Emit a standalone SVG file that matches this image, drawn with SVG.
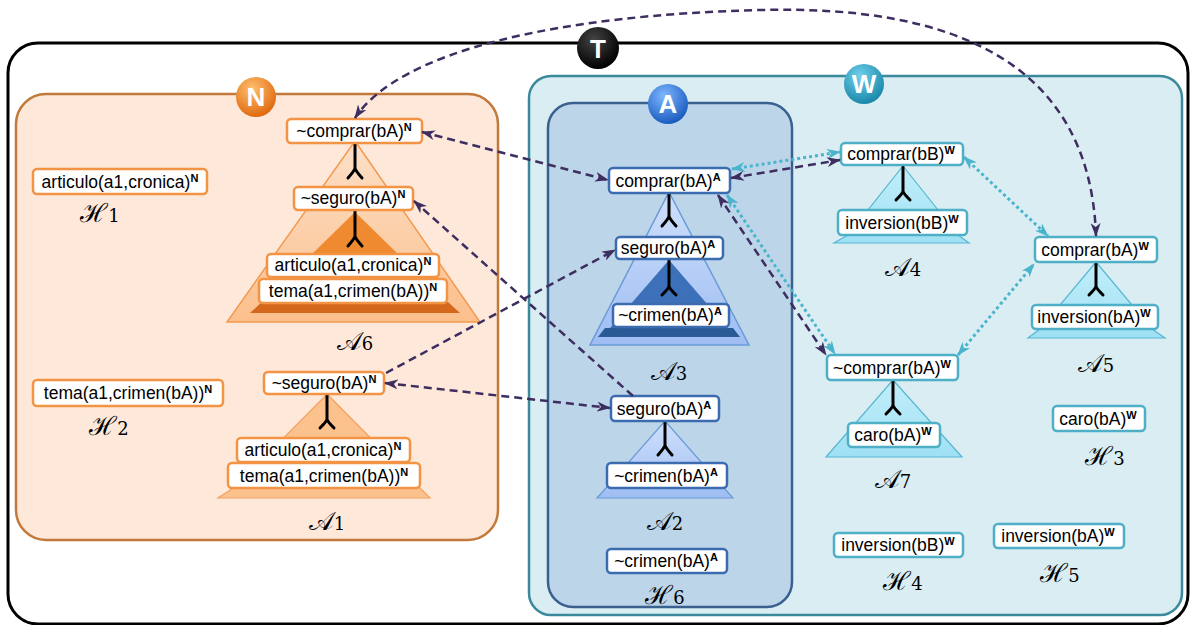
<svg xmlns="http://www.w3.org/2000/svg" width="1191" height="625" viewBox="0 0 1191 625">
<defs>
<style>
.t{font-family:"Liberation Sans",Arial,sans-serif;font-size:17.5px;fill:#000;text-anchor:middle}
.sup{font-size:11px;font-weight:bold}
.lab{font-family:"DejaVu Serif","Liberation Serif",serif;font-size:26px;fill:#000;text-anchor:middle}
.sub{font-size:18px}
.bn{fill:#fff;stroke:#f39344;stroke-width:2.5}
.ba{fill:#fff;stroke:#3c6cb0;stroke-width:2.5}
.bw{fill:#fff;stroke:#4eafc6;stroke-width:2.5}
.fork{fill:none;stroke:#000;stroke-width:3;stroke-linecap:round;stroke-linejoin:round}
.pd{fill:none;stroke:#3e2e60;stroke-width:2.5;stroke-dasharray:8 5}
.td{fill:none;stroke:#4ab4cc;stroke-width:3;stroke-dasharray:3 3}
.badge{font-family:"Liberation Sans",Arial,sans-serif;font-weight:bold;font-size:26px;fill:#fff;text-anchor:middle}
</style>
<marker id="mp" viewBox="0 0 14 10" refX="13" refY="5" markerWidth="14" markerHeight="10" markerUnits="userSpaceOnUse" orient="auto-start-reverse"><path d="M0,0 L14,5 L0,10 L4,5 z" fill="#3e2e60"/></marker>
<marker id="mt" viewBox="0 0 14 10" refX="13" refY="5" markerWidth="14" markerHeight="10" markerUnits="userSpaceOnUse" orient="auto-start-reverse"><path d="M0,0 L14,5 L0,10 L4,5 z" fill="#4ab4cc"/></marker>
<radialGradient id="gN" cx="40%" cy="30%" r="70%"><stop offset="0" stop-color="#ffc070"/><stop offset="1" stop-color="#e06a10"/></radialGradient>
<radialGradient id="gT" cx="40%" cy="30%" r="70%"><stop offset="0" stop-color="#444"/><stop offset="1" stop-color="#000"/></radialGradient>
<radialGradient id="gA" cx="40%" cy="30%" r="70%"><stop offset="0" stop-color="#80b8ff"/><stop offset="1" stop-color="#1a5cc0"/></radialGradient>
<radialGradient id="gW" cx="40%" cy="30%" r="70%"><stop offset="0" stop-color="#70d0ea"/><stop offset="1" stop-color="#1a88aa"/></radialGradient>
<linearGradient id="gBl" x1="0" y1="0" x2="0" y2="1"><stop offset="0" stop-color="#cfe0fb"/><stop offset="1" stop-color="#9fbdf3"/></linearGradient>
<linearGradient id="gTe" x1="0" y1="0" x2="0" y2="1"><stop offset="0" stop-color="#c2eefa"/><stop offset="1" stop-color="#9fe0f4"/></linearGradient>
<linearGradient id="gOr" x1="0" y1="0" x2="0" y2="1"><stop offset="0" stop-color="#fde0c8"/><stop offset="1" stop-color="#fbbf8c"/></linearGradient>
</defs>

<g id="frame-T">
<rect x="8" y="43" width="1180" height="581" rx="30" fill="#fff" stroke="#000" stroke-width="3"/>
</g>
<g id="region-N">
<rect x="16" y="94" width="482" height="446" rx="30" fill="#fde8da" stroke="#c27a3c" stroke-width="2.5"/>
</g>
<g id="region-W">
<rect x="529" y="76" width="653" height="539" rx="22" fill="#d9edf3" stroke="#3a8a9c" stroke-width="2.5"/>
</g>
<g id="region-A">
<rect x="548" y="103" width="244" height="504" rx="25" fill="#bdd5e9" stroke="#3a6090" stroke-width="2.5"/>
</g>

<g id="A6">
<polygon points="355,141 480,322 227,322" fill="url(#gOr)" stroke="#f39a50" stroke-width="1.5"/>
<polygon points="355,212 448,303 262,303" fill="#f08a30"/>
<polygon points="262,302 448,302 460,313 250,313" fill="#d4691e"/>
<path class="fork" d="M355,144 V168 M348,178 Q355,170 355,168 Q355,170 362,178"/>
<path class="fork" d="M355,211 V236 M348,246 Q355,238 355,236 Q355,238 362,246"/>
<rect class="bn" x="287" y="119" width="135" height="24" rx="4"/>
<text class="t" x="354" y="137">~comprar(bA)<tspan class="sup" dy="-6">N</tspan></text>
<rect class="bn" x="294" y="187" width="119" height="23" rx="4"/>
<text class="t" x="353" y="204">~seguro(bA)<tspan class="sup" dy="-6">N</tspan></text>
<rect class="bn" x="267" y="254" width="172" height="23" rx="4"/>
<text class="t" x="353" y="271">articulo(a1,cronica)<tspan class="sup" dy="-6">N</tspan></text>
<rect class="bn" x="259" y="279" width="188" height="24" rx="4"/>
<text class="t" x="353" y="297">tema(a1,crimen(bA))<tspan class="sup" dy="-6">N</tspan></text>
<text class="lab" x="355" y="350">𝒜<tspan class="sub">6</tspan></text>
</g>

<g id="H1">
<rect class="bn" x="33" y="169" width="174" height="25" rx="4"/>
<text class="t" x="120" y="188">articulo(a1,cronica)<tspan class="sup" dy="-6">N</tspan></text>
<text class="lab" x="100" y="222">ℋ<tspan class="sub">1</tspan></text>
</g>
<g id="H2">
<rect class="bn" x="33" y="380" width="190" height="26" rx="4"/>
<text class="t" x="128" y="399">tema(a1,crimen(bA))<tspan class="sup" dy="-6">N</tspan></text>
<text class="lab" x="109" y="435">ℋ<tspan class="sub">2</tspan></text>
</g>

<g id="A1">
<polygon points="327,394 419,487 430,498 218,498 235,487" fill="#fcc28e" stroke="#f5a060" stroke-width="1.2"/>
<path class="fork" d="M327,395 V419 M320,428 Q327,421 327,419 Q327,421 334,428"/>
<rect class="bn" x="264" y="372" width="120" height="22" rx="4"/>
<text class="t" x="324" y="389">~seguro(bA)<tspan class="sup" dy="-6">N</tspan></text>
<rect class="bn" x="237" y="438" width="173" height="24" rx="4"/>
<text class="t" x="323" y="456">articulo(a1,cronica)<tspan class="sup" dy="-6">N</tspan></text>
<rect class="bn" x="228" y="463" width="192" height="25" rx="4"/>
<text class="t" x="324" y="482">tema(a1,crimen(bA))<tspan class="sup" dy="-6">N</tspan></text>
<text class="lab" x="327" y="530">𝒜<tspan class="sub">1</tspan></text>
</g>

<g id="A3">
<polygon points="669,192 749,345 590,345" fill="url(#gBl)" stroke="#6a9cd8" stroke-width="1.5"/>
<polygon points="669,260 728,328 610,328" fill="#3c70b8"/>
<polygon points="605,328 733,328 740,337 598,337" fill="#2a5a96"/>
<path class="fork" d="M669,194 V216 M662,226 Q669,218 669,216 Q669,218 676,226"/>
<path class="fork" d="M669,260 V286 M662,295 Q669,288 669,286 Q669,288 676,295"/>
<rect class="ba" x="609" y="168" width="121" height="25" rx="4"/>
<text class="t" x="668" y="187">comprar(bA)<tspan class="sup" dy="-6">A</tspan></text>
<rect class="ba" x="616" y="237" width="107" height="22" rx="4"/>
<text class="t" x="668" y="254">seguro(bA)<tspan class="sup" dy="-6">A</tspan></text>
<rect class="ba" x="613" y="304" width="116" height="23" rx="4"/>
<text class="t" x="670" y="321">~crimen(bA)<tspan class="sup" dy="-6">A</tspan></text>
<text class="lab" x="669" y="380">𝒜<tspan class="sub">3</tspan></text>
</g>

<g id="A2">
<polygon points="665,421 724,488 733,498 597,498 606,488" fill="url(#gBl)" stroke="#6a9cd8" stroke-width="1.2"/>
<path class="fork" d="M665,422 V445 M658,455 Q665,447 665,445 Q665,447 672,455"/>
<rect class="ba" x="611" y="396" width="108" height="25" rx="4"/>
<text class="t" x="664" y="415">seguro(bA)<tspan class="sup" dy="-6">A</tspan></text>
<rect class="ba" x="607" y="463" width="120" height="25" rx="4"/>
<text class="t" x="666" y="482">~crimen(bA)<tspan class="sup" dy="-6">A</tspan></text>
<text class="lab" x="665" y="530">𝒜<tspan class="sub">2</tspan></text>
</g>

<g id="H6">
<rect class="ba" x="607" y="549" width="120" height="24" rx="4"/>
<text class="t" x="666" y="567">~crimen(bA)<tspan class="sup" dy="-6">A</tspan></text>
<text class="lab" x="665" y="604">ℋ<tspan class="sub">6</tspan></text>
</g>

<g id="A4">
<polygon points="903,166 958,235 969,243 834,243 848,235" fill="url(#gTe)" stroke="#58b8d4" stroke-width="1.2"/>
<path class="fork" d="M903,167 V191 M896,200 Q903,193 903,191 Q903,193 910,200"/>
<rect class="bw" x="841" y="143" width="122" height="22" rx="4"/>
<text class="t" x="901" y="160">comprar(bB)<tspan class="sup" dy="-6">W</tspan></text>
<rect class="bw" x="838" y="210" width="129" height="25" rx="4"/>
<text class="t" x="902" y="229">inversion(bB)<tspan class="sup" dy="-6">W</tspan></text>
<text class="lab" x="903" y="276">𝒜<tspan class="sub">4</tspan></text>
</g>

<g id="A5">
<polygon points="1096,262 1152,329 1165,338 1028,338 1040,329" fill="url(#gTe)" stroke="#58b8d4" stroke-width="1.2"/>
<path class="fork" d="M1096,263 V286 M1089,295 Q1096,288 1096,286 Q1096,288 1103,295"/>
<rect class="bw" x="1035" y="237" width="122" height="25" rx="4"/>
<text class="t" x="1095" y="256">comprar(bA)<tspan class="sup" dy="-6">W</tspan></text>
<rect class="bw" x="1032" y="305" width="126" height="24" rx="4"/>
<text class="t" x="1094" y="323">inversion(bA)<tspan class="sup" dy="-6">W</tspan></text>
<text class="lab" x="1096" y="372">𝒜<tspan class="sub">5</tspan></text>
</g>

<g id="A7">
<polygon points="893,380 962,457 826,457" fill="url(#gTe)" stroke="#58b8d4" stroke-width="1.2"/>
<path class="fork" d="M893,381 V405 M886,414 Q893,407 893,405 Q893,407 900,414"/>
<rect class="bw" x="827" y="355" width="131" height="25" rx="4"/>
<text class="t" x="892" y="374">~comprar(bA)<tspan class="sup" dy="-6">W</tspan></text>
<rect class="bw" x="848" y="423" width="92" height="24" rx="4"/>
<text class="t" x="893" y="441">caro(bA)<tspan class="sup" dy="-6">W</tspan></text>
<text class="lab" x="893" y="488">𝒜<tspan class="sub">7</tspan></text>
</g>

<g id="H3">
<rect class="bw" x="1053" y="406" width="92" height="25" rx="4"/>
<text class="t" x="1098" y="425">caro(bA)<tspan class="sup" dy="-6">W</tspan></text>
<text class="lab" x="1105" y="465">ℋ<tspan class="sub">3</tspan></text>
</g>
<g id="H4">
<rect class="bw" x="834" y="533" width="129" height="24" rx="4"/>
<text class="t" x="898" y="551">inversion(bB)<tspan class="sup" dy="-6">W</tspan></text>
<text class="lab" x="903" y="590">ℋ<tspan class="sub">4</tspan></text>
</g>
<g id="H5">
<rect class="bw" x="994" y="524" width="130" height="24" rx="4"/>
<text class="t" x="1058" y="542">inversion(bA)<tspan class="sup" dy="-6">W</tspan></text>
<text class="lab" x="1060" y="582">ℋ<tspan class="sub">5</tspan></text>
</g>

<g id="connectors">
<path class="pd" d="M1096,236 C1090,60 950,5 760,10 C560,15 400,50 355,118" marker-start="url(#mp)" marker-end="url(#mp)"/>
<path class="pd" d="M422,132 L608,180" marker-start="url(#mp)" marker-end="url(#mp)"/>
<path class="pd" d="M633,396 L414,201" marker-end="url(#mp)"/>
<path class="pd" d="M386,373 L615,250" marker-end="url(#mp)"/>
<path class="pd" d="M385,383 L610,408" marker-start="url(#mp)" marker-end="url(#mp)"/>
<path class="td" d="M732,169 L840,152" marker-start="url(#mt)" marker-end="url(#mt)"/>
<path class="pd" d="M731,178 L840,160" marker-start="url(#mp)" marker-end="url(#mp)"/>
<path class="td" d="M727,195 L835,354" marker-start="url(#mt)" marker-end="url(#mt)"/>
<path class="pd" d="M718,195 L826,355" marker-start="url(#mp)" marker-end="url(#mp)"/>
<path class="td" d="M964,157 L1048,236" marker-start="url(#mt)" marker-end="url(#mt)"/>
<path class="td" d="M958,355 L1034,264" marker-start="url(#mt)" marker-end="url(#mt)"/>
</g>

<g id="badge-T">
<circle cx="598" cy="48" r="21" fill="url(#gT)"/>
<text class="badge" x="598" y="58">T</text>
</g>
<g id="badge-N">
<circle cx="256" cy="97" r="20" fill="url(#gN)"/>
<text class="badge" x="256" y="106">N</text>
</g>
<g id="badge-A">
<circle cx="668" cy="104" r="20" fill="url(#gA)"/>
<text class="badge" x="668" y="113">A</text>
</g>
<g id="badge-W">
<circle cx="864" cy="84" r="20" fill="url(#gW)"/>
<text class="badge" x="864" y="93">W</text>
</g>
</svg>
